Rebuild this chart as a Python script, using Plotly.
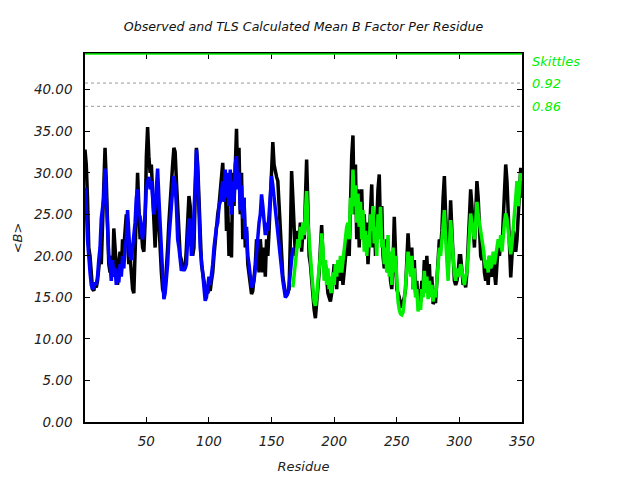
import plotly.graph_objects as go

# Observed mean B per residue (residues 1..350)
observed = [
    32.8, 31.0, 27.0, 21.0, 20.0, 17.5, 16.0, 15.8, 16.5, 16.2,
    17.0, 18.5, 20.0, 19.0, 24.0, 28.0, 33.0, 29.0, 24.0, 19.0,
    18.0, 20.0, 17.5, 23.3, 21.0, 18.5, 16.5, 19.0, 20.5, 18.0,
    22.0, 21.0, 23.0, 25.0, 22.0, 19.0, 20.0, 17.0, 16.0, 15.5,
    20.0, 27.0, 30.0, 26.0, 22.0, 23.0, 21.0, 20.5, 24.0, 32.0,
    35.5, 32.0, 30.0, 31.0, 28.0, 24.0, 21.0, 25.0, 27.0, 24.0,
    20.0, 18.0, 16.0, 15.5, 16.0, 18.0, 21.0, 24.0, 27.0, 30.0,
    31.0, 33.0, 32.5, 29.0, 26.0, 22.0, 20.0, 19.5, 18.5, 19.0,
    18.5, 21.0, 24.0, 27.2, 26.0, 22.0, 20.0, 21.0, 28.0, 33.0,
    31.0, 26.0, 21.0, 19.0, 18.0, 17.0, 16.0, 16.5, 15.5, 16.0,
    15.8, 17.0, 18.0, 20.0, 22.0, 23.0, 25.0, 26.0, 27.5, 29.0,
    31.2, 27.0, 30.0, 23.0, 26.0, 20.0, 24.0, 19.8, 30.0, 26.0,
    32.0, 35.3, 29.0, 33.0, 25.0, 30.0, 22.0, 27.0, 21.0, 23.0,
    19.0, 18.0, 16.5, 15.4, 15.8, 17.0, 19.0, 22.0, 20.0, 18.0,
    22.0, 19.0, 18.0, 21.0, 17.5, 22.0, 20.0, 23.0, 26.0, 31.0,
    33.7, 31.0, 30.0, 29.5, 29.0, 26.0, 22.0, 19.0, 17.5, 16.5,
    15.5, 15.2, 15.8, 16.0, 22.0, 30.2, 27.0, 22.0, 20.0, 21.0,
    23.0, 22.0, 24.0, 20.5, 23.0, 22.0, 26.0, 31.6, 26.0, 20.0,
    19.0, 17.0, 14.5, 13.5, 12.5, 14.0, 16.0, 18.0, 21.0, 23.7,
    20.0, 18.0, 19.0, 16.5, 15.5, 15.0, 14.5, 15.5, 17.0, 19.0,
    18.0, 16.0, 19.0, 17.0, 18.5, 19.8, 16.5, 18.0, 20.0, 22.0,
    23.0, 20.0, 28.0, 32.0, 34.5, 25.0, 31.0, 22.0, 28.0, 21.0,
    26.0, 28.0, 22.0, 25.0, 21.0, 24.0, 19.0, 22.0, 26.0, 28.6,
    21.0, 25.0, 20.0, 25.0, 28.0, 29.8, 23.0, 26.0, 20.0, 18.5,
    19.0, 22.0, 18.0, 20.5, 17.0, 16.0, 19.0, 24.7, 21.0, 16.0,
    15.5, 15.0, 14.0, 13.8, 14.5, 15.0, 16.0, 19.0, 22.7, 20.0,
    18.0, 21.0, 16.0, 19.5, 15.5, 17.0, 14.0, 16.0, 14.5, 17.0,
    16.0, 19.5, 16.5, 20.0, 16.5, 19.0, 15.5, 17.5, 14.2, 14.5,
    14.5, 17.0, 20.0, 22.0, 21.0, 23.0, 27.0, 29.6, 25.0, 20.0,
    18.0, 22.0, 26.7, 23.0, 19.0, 17.0, 16.5, 17.0, 18.0, 20.0,
    20.0, 17.5, 16.5, 17.0, 16.2, 18.0, 22.0, 25.0, 28.0, 26.0,
    24.0, 21.0, 25.0, 29.0, 27.0, 22.0, 20.0, 19.5, 21.0, 18.0,
    17.0, 18.5, 16.5, 20.0, 18.0, 17.5, 19.0, 18.0, 16.5, 19.0,
    21.0, 20.0, 22.0, 21.0, 24.0, 27.0, 31.0, 29.0, 25.0, 19.0,
    17.4, 20.0, 23.0, 22.0, 20.5, 22.0, 25.0, 29.0, 30.6, 27.0,
]

# TLS group 1 (residues 1..167), blue
tls_blue = [
    28.2, 26.0, 22.0, 19.0, 18.0, 16.5, 16.0, 16.2, 16.8, 16.5,
    17.5, 19.5, 21.0, 24.5, 25.5, 27.0, 30.5, 27.0, 23.0, 20.0,
    19.0, 17.0, 19.5, 17.5, 18.5, 16.5, 18.0, 16.8, 19.0, 17.5,
    20.0, 18.5, 21.0, 22.0, 25.5, 22.0, 20.0, 19.5, 21.0, 22.0,
    24.0, 27.0, 28.0, 25.0, 24.7, 23.0, 22.0, 23.5, 25.0, 28.4,
    29.0, 29.5, 28.0, 29.0, 27.0, 25.0, 26.0, 29.0, 30.5, 27.0,
    24.0, 20.0, 17.0, 14.8, 15.5, 17.0, 19.0, 22.0, 24.3, 27.0,
    28.0, 29.6, 28.5, 26.0, 22.0, 21.0, 19.0, 18.2, 18.5, 18.2,
    18.5, 19.0, 22.0, 24.5, 23.0, 20.0, 21.0, 25.0, 30.0, 32.8,
    30.0, 25.0, 21.0, 19.5, 18.0, 16.0, 14.6, 15.0, 16.5, 17.5,
    16.5, 17.5, 19.0, 21.0, 22.5, 23.5, 24.0, 26.0, 26.5, 28.0,
    29.0, 26.5, 30.4, 27.0, 30.0, 26.0, 30.4, 25.0, 29.0, 26.5,
    31.0, 32.0, 28.0, 30.0, 25.5, 28.5, 24.5, 27.0, 22.0, 23.5,
    20.0, 19.0, 17.5, 16.2, 16.5, 17.0, 18.5, 20.5, 22.0, 24.0,
    25.0, 27.4, 26.0, 24.0, 22.5, 24.0, 23.0, 25.0, 27.0, 29.6,
    28.5, 27.0, 25.0, 24.5, 23.0, 21.0, 19.5, 18.0, 17.0, 16.0,
    15.0, 15.2, 15.5, 16.5, 18.0, 20.5, 21.0,
]
blue_start = 1

# TLS group 2 (residues 167..350), green
tls_green = [
    16.2, 17.5, 19.0, 21.0,
    22.0, 21.0, 23.5, 22.0, 24.0, 22.5, 25.0, 27.8, 24.0, 21.0,
    20.0, 18.0, 16.0, 14.5, 14.0, 15.0, 17.0, 18.5, 20.0, 22.7,
    21.0, 17.0, 19.5, 16.5, 18.5, 16.0, 17.5, 15.5, 18.0, 16.5,
    19.0, 17.5, 19.5, 18.0, 20.0, 18.0, 19.5, 20.5, 22.0, 23.5,
    24.0, 22.0, 27.0, 25.0, 30.4, 26.0, 28.5, 24.0, 27.5, 23.5,
    26.5, 22.0, 25.5, 20.5, 23.0, 20.0, 22.5, 21.0, 25.0, 23.0,
    26.0, 21.5, 23.5, 20.0, 25.0, 22.0, 25.9, 21.0, 22.0, 19.0,
    21.0, 18.0, 22.5, 17.5, 20.5, 16.5, 21.0, 18.0, 20.0, 16.0,
    14.5, 13.5, 13.0, 12.9, 13.2, 14.5, 16.0, 18.5, 20.5, 19.0,
    17.5, 20.0, 16.0, 18.5, 15.0, 16.0, 13.3, 14.5, 13.5, 16.0,
    15.0, 18.2, 15.5, 17.5, 14.8, 17.0, 15.0, 16.5, 14.5, 16.0,
    15.0, 17.0, 19.5, 21.0, 20.0, 22.0, 24.5, 25.5, 22.0, 19.0,
    17.0, 21.0, 24.3, 22.0, 19.0, 18.0, 17.0, 18.5, 17.5, 18.0,
    19.0, 18.0, 17.0, 16.5, 17.5, 18.0, 20.0, 22.0, 25.1, 24.0,
    23.0, 22.0, 24.0, 26.5, 25.0, 24.0, 23.0, 22.5, 21.0, 19.5,
    18.5, 19.5, 18.0, 20.0, 18.5, 19.0, 20.5, 19.0, 20.0, 21.0,
    22.0, 21.0, 22.5, 20.5, 23.0, 24.0, 25.1, 24.5, 23.0, 21.0,
    20.2, 21.5, 23.0, 25.0, 27.0, 29.0, 26.0, 28.0, 30.0, 29.0,
]
green_start = 167

x_ticks = [50, 100, 150, 200, 250, 300, 350]
y_ticks = [0, 5, 10, 15, 20, 25, 30, 35, 40]

skittles_title = "Skittles"
skittles_levels = [40.8, 38.0]
skittles_labels = ["0.92", "0.86"]

res_obs = list(range(1, len(observed) + 1))
res_blue = list(range(blue_start, blue_start + len(tls_blue)))
res_green = list(range(green_start, green_start + len(tls_green)))

GREEN = "#00f000"
FONT = "DejaVu Sans"

fig = go.Figure()
fig.add_trace(go.Scatter(x=res_obs, y=observed, mode="lines",
                         line=dict(color="black", width=3.5), showlegend=False))
fig.add_trace(go.Scatter(x=res_blue, y=tls_blue, mode="lines",
                         line=dict(color="#0000ff", width=3.5), showlegend=False))
fig.add_trace(go.Scatter(x=res_green, y=tls_green, mode="lines",
                         line=dict(color=GREEN, width=3.5), showlegend=False))

for lvl, lab in zip(skittles_levels, skittles_labels):
    fig.add_shape(type="line", xref="paper", yref="y", x0=0, x1=1, y0=lvl, y1=lvl,
                  line=dict(color="#999999", width=1, dash="dot"))
    fig.add_annotation(xref="paper", yref="y", x=1.0, y=lvl, text=lab, showarrow=False,
                       xanchor="left", xshift=8, yshift=0,
                       font=dict(family=FONT, size=13, color=GREEN, style="italic"))

fig.add_annotation(xref="paper", yref="paper", x=1.0, y=1.0, text=skittles_title,
                   showarrow=False, xanchor="left", yanchor="middle", xshift=8, yshift=-7,
                   font=dict(family=FONT, size=13, color=GREEN, style="italic"))

# green top border
fig.add_shape(type="line", xref="paper", yref="paper", x0=0, x1=1, y0=1, y1=1,
              line=dict(color=GREEN, width=1.5))

axis_font = dict(family=FONT, size=13, color="#222222", style="italic")
tick_font = dict(family=FONT, size=13.5, color="#222222", style="italic")

fig.update_layout(
    width=640, height=480,
    margin=dict(l=85, r=118, t=54, b=58),
    paper_bgcolor="white", plot_bgcolor="white",
    title=dict(text="Observed and TLS Calculated Mean B Factor Per Residue",
               x=(85 + 522) / 2 / 640, xanchor="center", y=1 - 27 / 480, yanchor="middle",
               font=dict(family=FONT, size=12.6, color="#111111", style="italic")),
    xaxis=dict(range=[1, 350], tickvals=x_ticks, ticktext=[str(v) for v in x_ticks],
               ticks="inside", ticklen=5, tickcolor="black", showline=True,
               linecolor="black", linewidth=1.5, mirror="ticks", showgrid=False,
               zeroline=False, tickfont=tick_font, automargin=False,
               ticklabelstandoff=6,
               title=dict(text="Residue", font=axis_font, standoff=14)),
    yaxis=dict(range=[0, 44.3], tickvals=y_ticks, tickformat=".2f",
               ticks="inside", ticklen=5, tickcolor="black", showline=True,
               linecolor="black", linewidth=1.5, mirror="ticks", showgrid=False,
               zeroline=False, tickfont=tick_font, automargin=False,
               ticklabelstandoff=8,
               title=dict(text="&lt;B&gt;", font=axis_font, standoff=8)),
)

fig.write_html("out.html", config={"displayModeBar": False},
               post_script="document.body.style.margin='0';")
